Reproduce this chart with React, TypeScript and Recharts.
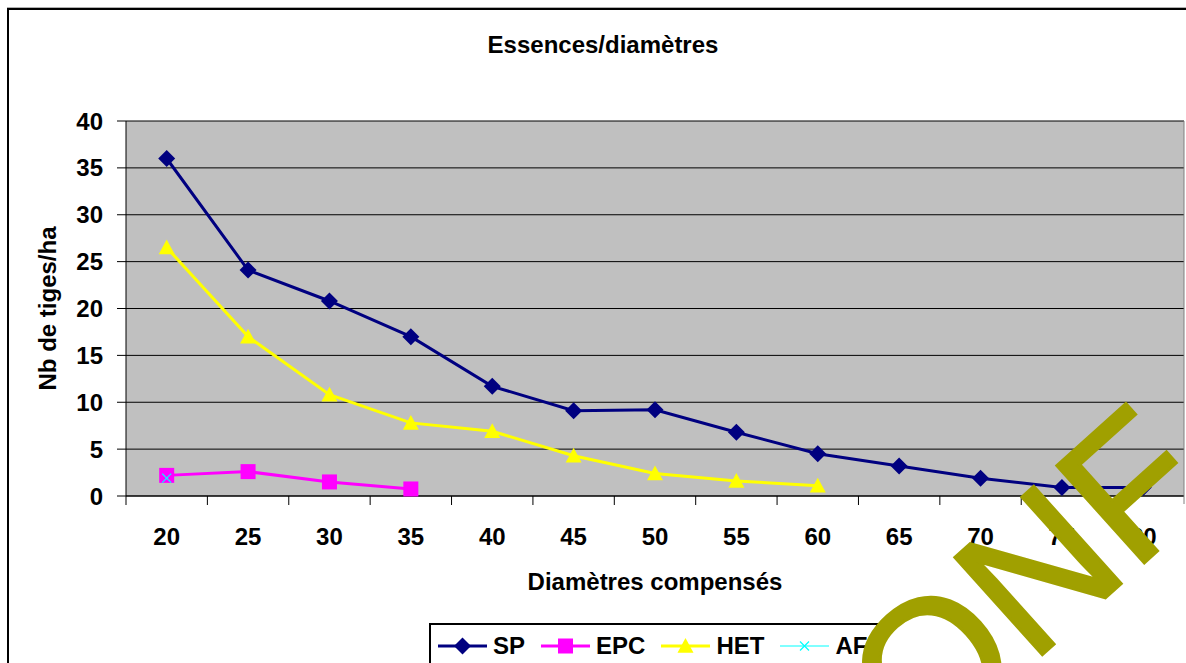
import React from "react";
import { CartesianGrid, Label, Line, LineChart, XAxis, YAxis } from "recharts";

// --- data ---
const diameters = [20, 25, 30, 35, 40, 45, 50, 55, 60, 65, 70, 75, 80];
const sp = [36, 24.1, 20.8, 17, 11.7, 9.1, 9.2, 6.8, 4.5, 3.2, 1.9, 0.9, 0.9];
const epc = [2.2, 2.6, 1.5, 0.75, null, null, null, null, null, null, null, null, null];
const het = [26.5, 17, 10.8, 7.8, 6.9, 4.3, 2.4, 1.6, 1.1, null, null, null, null];
const af = [1.9, null, null, null, null, null, null, null, null, null, null, null, null];
const yTicks = [0, 5, 10, 15, 20, 25, 30, 35, 40];

const data = diameters.map((d, i) => ({ d, SP: sp[i], EPC: epc[i], HET: het[i], AF: af[i] }));

const W = 1186;
const H = 663;
const PLOT_LEFT = 126;
const PLOT_RIGHT = 1184;
const PLOT_TOP = 121;
const PLOT_BOTTOM = 496;
const Y_W = 100;
const X_H = 60;
const BAND = (PLOT_RIGHT - PLOT_LEFT) / diameters.length;

const FONT = "'Liberation Sans', Arial, sans-serif";
const NAVY = "#000080";
const MAGENTA = "#FF00FF";
const YELLOW = "#FFFF00";
const CYAN = "#00FFFF";

type Shape = "diamond" | "square" | "triangle" | "x";

function marker(shape: Shape, cx: number, cy: number, color: string, key?: any) {
  if (shape === "diamond") {
    const r = 8.5;
    return <path key={key} d={`M${cx},${cy - r}L${cx + r},${cy}L${cx},${cy + r}L${cx - r},${cy}Z`} fill={color} />;
  }
  if (shape === "square") {
    const r = 7.5;
    return <rect key={key} x={cx - r} y={cy - r} width={r * 2} height={r * 2} fill={color} />;
  }
  if (shape === "triangle") {
    const r = 8;
    return <path key={key} d={`M${cx},${cy - r}L${cx + r},${cy + r * 0.85}L${cx - r},${cy + r * 0.85}Z`} fill={color} />;
  }
  const r = 4.5;
  return (
    <path key={key} d={`M${cx - r},${cy - r}L${cx + r},${cy + r}M${cx + r},${cy - r}L${cx - r},${cy + r}`} stroke={color} strokeWidth={1.2} fill="none" />
  );
}

const dotFor = (shape: Shape, color: string) => (p: any) => {
  if (p.value == null || p.cx == null || p.cy == null) return <g key={p.key ?? p.index} />;
  return marker(shape, p.cx, p.cy, color, p.key ?? p.index);
};

const series = [
  { name: "SP", color: NAVY, shape: "diamond" as Shape, width: 3 },
  { name: "EPC", color: MAGENTA, shape: "square" as Shape, width: 3 },
  { name: "HET", color: YELLOW, shape: "triangle" as Shape, width: 3 },
  { name: "AF", color: CYAN, shape: "x" as Shape, width: 1 },
];

const XTick = (props: any) => {
  const { x, payload, index } = props;
  const last = index === diameters.length - 1;
  return (
    <g>
      <line x1={x - BAND / 2} y1={PLOT_BOTTOM} x2={x - BAND / 2} y2={PLOT_BOTTOM + 9} stroke="#000" />
      {last && <line x1={x + BAND / 2} y1={PLOT_BOTTOM} x2={x + BAND / 2} y2={PLOT_BOTTOM + 8} stroke="#808080" />}
      <text x={x} y={545} textAnchor="middle" fontFamily={FONT} fontWeight="bold" fontSize={24} fill="#000">
        {payload.value}
      </text>
    </g>
  );
};

export default function App() {
  return (
    <div style={{ position: "absolute", left: 0, top: 0, width: W, height: H, overflow: "hidden", background: "#fff" }}>
      <div style={{ position: "absolute", left: 7, top: 7, width: W, height: 1, background: "#b0b0b0" }} />
      <div style={{ position: "absolute", left: 7, top: 8, width: W, height: H, borderTop: "2px solid #000", borderLeft: "2px solid #000" }} />
      <div
        style={{
          position: "absolute",
          left: 0,
          width: 1206,
          top: 31,
          textAlign: "center",
          fontFamily: FONT,
          fontWeight: "bold",
          fontSize: 24,
          color: "#000",
        }}
      >
        Essences/diamètres
      </div>
      <div style={{ position: "absolute", left: 0, top: 0 }}>
        <LineChart
          width={W}
          height={H}
          data={data}
          margin={{ top: PLOT_TOP, right: 1, bottom: H - PLOT_BOTTOM - X_H, left: PLOT_LEFT - Y_W }}
        >
          <CartesianGrid horizontal vertical={false} stroke="#000" fill="#C0C0C0" fillOpacity={1} />
          <XAxis
            dataKey="d"
            height={X_H}
            padding={{ left: BAND / 2, right: BAND / 2 }}
            axisLine={{ stroke: "#000" }}
            tickLine={false}
            tick={<XTick />}
            interval={0}
          >
            <Label
              value="Diamètres compensés"
              position="bottom"
              offset={17}
              style={{ fontFamily: FONT, fontWeight: "bold", fontSize: 24, fill: "#000" }}
            />
          </XAxis>
          <YAxis
            domain={[0, 40]}
            ticks={yTicks}
            width={Y_W}
            axisLine={{ stroke: "#000" }}
            tickLine={{ stroke: "#000" }}
            tickSize={9}
            tickMargin={14}
            tick={{ fontFamily: FONT, fontWeight: "bold", fontSize: 24, fill: "#000" }}
            interval={0}
          >
            <Label
              value="Nb de tiges/ha"
              angle={-90}
              position="insideLeft"
              offset={21}
              style={{ textAnchor: "middle", fontFamily: FONT, fontWeight: "bold", fontSize: 24, fill: "#000" }}
            />
          </YAxis>
          <YAxis yAxisId="r" orientation="right" width={1} domain={[0, 40]} tick={false} tickLine={false} axisLine={{ stroke: "#808080" }} />
          {series.map((s) => (
            <Line
              key={s.name}
              dataKey={s.name}
              type="linear"
              stroke={s.color}
              strokeWidth={s.width}
              dot={dotFor(s.shape, s.color)}
              activeDot={false}
              connectNulls={false}
              isAnimationActive={false}
            />
          ))}
        </LineChart>
      </div>
      <div
        style={{
          position: "absolute",
          left: 429,
          top: 623,
          width: 449,
          height: 60,
          border: "2px solid #000",
          background: "#fff",
          boxSizing: "border-box",
        }}
      >
        <div style={{ position: "absolute", left: 7, top: 0, height: 42, display: "flex", alignItems: "center" }}>
          {series.map((s) => (
            <div key={s.name} style={{ display: "flex", alignItems: "center", marginRight: 16 }}>
              <svg width={49} height={20} style={{ display: "block" }}>
                <line x1={0} y1={10} x2={49} y2={10} stroke={s.color} strokeWidth={s.width} />
                {marker(s.shape, 24.5, 10, s.color)}
              </svg>
              <span style={{ marginLeft: 6, fontFamily: FONT, fontWeight: "bold", fontSize: 24, color: "#000" }}>{s.name}</span>
            </div>
          ))}
        </div>
      </div>
      <svg width={W} height={H} style={{ position: "absolute", left: 0, top: 0, pointerEvents: "none" }}>
        <text
          x={921}
          y={764}
          transform="rotate(-42 921 764)"
          fontFamily={FONT}
          fontSize={190}
          fill="#A0A000"
          stroke="#A0A000"
          strokeWidth={3}
          strokeLinejoin="miter"
        >
          ONF
        </text>
      </svg>
    </div>
  );
}
